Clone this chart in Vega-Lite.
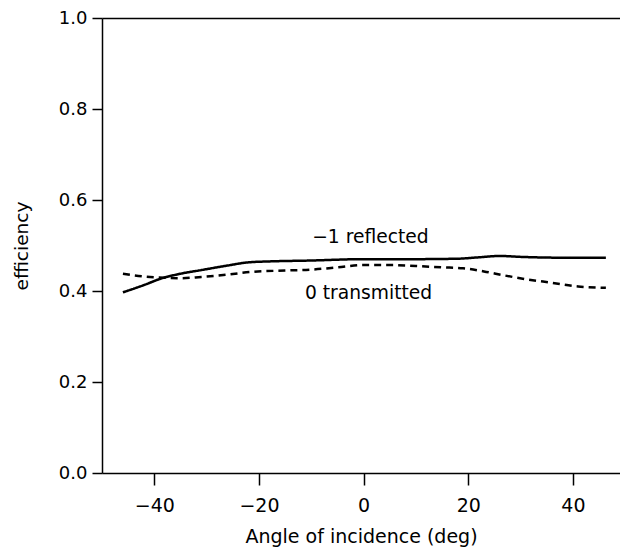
{
  "$schema": "https://vega.github.io/schema/vega-lite/v6.json",
  "width": 518,
  "height": 455,
  "autosize": "none",
  "padding": {"left": 102, "top": 18, "right": 0, "bottom": 77},
  "background": "white",
  "config": {
    "view": {"stroke": null},
    "font": "DejaVu Sans"
  },
  "resolve": {"axis": {"x": "independent"}},
  "datasets": {
    "curves": [
      {"angle": -46, "eff": 0.397, "series": "reflected"},
      {"angle": -42, "eff": 0.413, "series": "reflected"},
      {"angle": -38.8, "eff": 0.427, "series": "reflected"},
      {"angle": -35, "eff": 0.438, "series": "reflected"},
      {"angle": -31, "eff": 0.446, "series": "reflected"},
      {"angle": -26, "eff": 0.456, "series": "reflected"},
      {"angle": -22, "eff": 0.463, "series": "reflected"},
      {"angle": -18, "eff": 0.465, "series": "reflected"},
      {"angle": -10, "eff": 0.467, "series": "reflected"},
      {"angle": 0, "eff": 0.47, "series": "reflected"},
      {"angle": 10, "eff": 0.47, "series": "reflected"},
      {"angle": 18, "eff": 0.471, "series": "reflected"},
      {"angle": 22, "eff": 0.474, "series": "reflected"},
      {"angle": 26, "eff": 0.477, "series": "reflected"},
      {"angle": 30, "eff": 0.475, "series": "reflected"},
      {"angle": 40, "eff": 0.473, "series": "reflected"},
      {"angle": 46.3, "eff": 0.473, "series": "reflected"},
      {"angle": -46, "eff": 0.438, "series": "transmitted"},
      {"angle": -42, "eff": 0.432, "series": "transmitted"},
      {"angle": -38, "eff": 0.429, "series": "transmitted"},
      {"angle": -35, "eff": 0.428, "series": "transmitted"},
      {"angle": -31, "eff": 0.431, "series": "transmitted"},
      {"angle": -26, "eff": 0.436, "series": "transmitted"},
      {"angle": -21.5, "eff": 0.442, "series": "transmitted"},
      {"angle": -15, "eff": 0.445, "series": "transmitted"},
      {"angle": -10, "eff": 0.447, "series": "transmitted"},
      {"angle": -5, "eff": 0.452, "series": "transmitted"},
      {"angle": 0, "eff": 0.457, "series": "transmitted"},
      {"angle": 5, "eff": 0.457, "series": "transmitted"},
      {"angle": 10, "eff": 0.455, "series": "transmitted"},
      {"angle": 15, "eff": 0.452, "series": "transmitted"},
      {"angle": 19, "eff": 0.45, "series": "transmitted"},
      {"angle": 23, "eff": 0.443, "series": "transmitted"},
      {"angle": 27, "eff": 0.434, "series": "transmitted"},
      {"angle": 31, "eff": 0.426, "series": "transmitted"},
      {"angle": 36, "eff": 0.418, "series": "transmitted"},
      {"angle": 41, "eff": 0.41, "series": "transmitted"},
      {"angle": 46.3, "eff": 0.407, "series": "transmitted"}
    ],
    "labels": [
      {"angle": 1.3, "eff": 0.5055, "text": "−1 reflected"},
      {"angle": 0.95, "eff": 0.3824, "text": "0 transmitted"}
    ]
  },
  "layer": [
    {
      "data": {"name": "curves"},
      "mark": {"type": "line", "color": "black", "strokeWidth": 2.5, "interpolate": "monotone", "clip": true},
      "encoding": {
        "x": {
          "field": "angle", "type": "quantitative",
          "scale": {"domain": [-50, 49], "nice": false, "zero": false},
          "axis": {
            "orient": "bottom",
            "values": [-40, -20, 0, 20, 40], "format": "d",
            "title": "Angle of incidence (deg)",
            "grid": false,
            "domainColor": "black", "domainWidth": 1.5,
            "tickColor": "black", "tickWidth": 1.5, "tickSize": 12,
            "labelColor": "black", "labelFont": "DejaVu Sans", "labelFontSize": 19, "labelPadding": 11,
            "titleColor": "black", "titleFont": "DejaVu Sans", "titleFontSize": 19, "titleFontWeight": "normal", "titlePadding": 12
          }
        },
        "y": {
          "field": "eff", "type": "quantitative",
          "scale": {"domain": [0, 1], "nice": false},
          "axis": {
            "values": [0, 0.2, 0.4, 0.6, 0.8, 1.0], "format": ".1f",
            "title": "efficiency",
            "grid": false,
            "domainColor": "black", "domainWidth": 1.5,
            "tickColor": "black", "tickWidth": 1.5, "tickSize": 10,
            "labelColor": "black", "labelFont": "DejaVu Sans", "labelFontSize": 18, "labelPadding": 5,
            "titleColor": "black", "titleFont": "DejaVu Sans", "titleFontSize": 18.5, "titleFontWeight": "normal", "titlePadding": 27
          }
        },
        "detail": {"field": "series"},
        "strokeDash": {
          "field": "series", "type": "nominal",
          "scale": {"domain": ["reflected", "transmitted"], "range": [[1, 0], [7, 5]]},
          "legend": null
        }
      }
    },
    {
      "data": {"name": "labels"},
      "mark": {"type": "text", "fontSize": 18.7, "color": "black", "font": "DejaVu Sans", "align": "center", "baseline": "alphabetic"},
      "encoding": {
        "x": {
          "field": "angle", "type": "quantitative",
          "axis": {"orient": "top", "labels": false, "ticks": false, "title": null, "grid": false, "domain": true, "domainColor": "black", "domainWidth": 1.5}
        },
        "y": {"field": "eff", "type": "quantitative"},
        "text": {"field": "text"}
      }
    }
  ]
}
